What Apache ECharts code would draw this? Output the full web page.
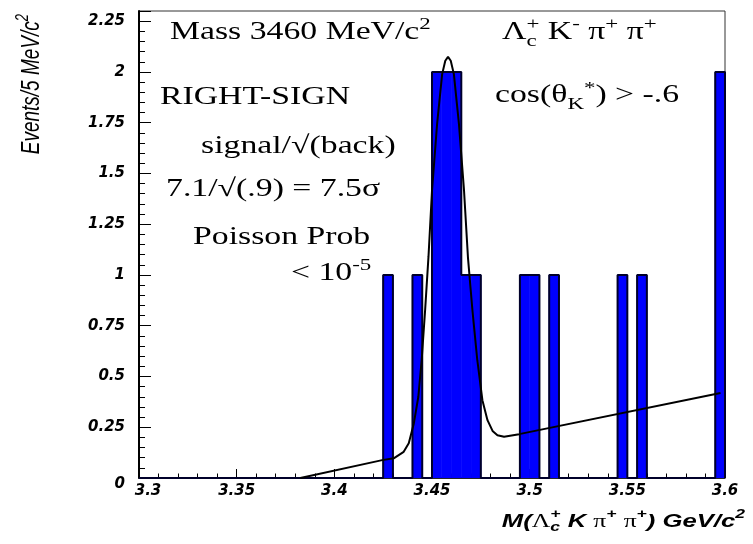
<!DOCTYPE html>
<html><head><meta charset="utf-8">
<script src="https://cdn.jsdelivr.net/npm/echarts@6/dist/echarts.min.js"></script>
<style>html,body{margin:0;padding:0;background:#fff}#c{width:753px;height:544px}</style>
</head><body><div id="c"></div>
<script>
// ---- data ----
const binLow   = [3.425, 3.440, 3.450, 3.455, 3.460, 3.465, 3.470, 3.495, 3.500, 3.510, 3.545, 3.555, 3.595];
const binCount = [1,     1,     2,     2,     2,     1,     1,     1,     1,     1,     1,     1,     2];
const binWidth = 0.005;
const massRange = [3.3, 3.6];
const yRange = [0, 2.3];
const xTickStep = 0.05;
const yTickStep = 0.25;
const yMinorStep = 0.05;
const fitMass  = [3.3826, 3.4245, 3.4304, 3.4355, 3.4381, 3.4407, 3.4430, 3.4447, 3.4465, 3.4482, 3.4500, 3.4526, 3.4552, 3.4568, 3.4582, 3.4596, 3.4612, 3.4638, 3.4664, 3.4684, 3.4707, 3.4732, 3.4758, 3.4784, 3.4810, 3.4835, 3.4869, 3.4946, 3.5977];
const fitValue = [0,      0.088,  0.097,  0.129,  0.171,  0.269,  0.40,   0.58,   0.83,   1.09,   1.415,  1.743,  1.989,  2.055,  2.074,  2.055,  1.989,  1.743,  1.415,  1.087,  0.826,  0.580,  0.383,  0.285,  0.232,  0.211,  0.203,  0.216,  0.419];

// ---- build tables ----
const nBins = Math.round((massRange[1] - massRange[0]) / binWidth);
const fullCounts = [];
for (let i = 0; i < nBins; i++) {
  const lo = +(massRange[0] + i * binWidth).toFixed(4);
  const k = binLow.findIndex(b => Math.abs(b - lo) < 1e-6);
  fullCounts.push([lo, k >= 0 ? binCount[k] : 0]);
}
const outline = fullCounts.slice();
outline.push([massRange[1], fullCounts[nBins - 1][1]]);
outline.push([massRange[1], 0]);
const barData = binLow.map((b, i) => [b, +(b + binWidth).toFixed(4), binCount[i]]);
const fitData = fitMass.map((m, i) => [m, fitValue[i]]);

// ---- text layout helper ----
const SERIF = 'Liberation Serif', SANS = 'Liberation Sans';
const mctx = document.createElement('canvas').getContext('2d');
function fstr(s) { return (s.st || 'normal') + ' ' + (s.w || 'normal') + ' ' + s.sz + 'px "' + s.f + '"'; }
function layout(x0, base, segs, def, sx) {
  const items = []; let x = x0; let stackW = null;
  segs.forEach(seg => {
    const s = Object.assign({}, def, seg);
    mctx.font = fstr(s);
    const w = mctx.measureText(s.t).width * sx;
    items.push({ type: 'text', x: x, y: base - (s.dy || 0) - 0.34 * s.sz, scaleX: sx,
      style: { text: s.t, font: fstr(s), fill: '#000', align: 'left', verticalAlign: 'middle' } });
    if (s.stack) { stackW = w; }
    else { x += (stackW !== null ? Math.max(stackW, w) : w); stackW = null; }
  });
  return { items, width: x - x0 };
}
const SX = 1.35;
const serifDef = { f: SERIF, sz: 25 };
const sup = { sz: 17, dy: 11 };
const sub = { sz: 17, dy: -6 };
const texts = [];
function add(x, base, segs, def, sx) { texts.push(...layout(x, base, segs, def || serifDef, sx || SX).items); }

add(170, 41, [{ t: 'Mass 3460 MeV/c' }, Object.assign({ t: '2' }, sup)]);
add(502, 41, [{ t: 'Λ' }, Object.assign({ t: '+', stack: true }, sup), Object.assign({ t: 'c' }, sub),
  { t: ' K' }, Object.assign({ t: '-' }, sup), { t: ' π' }, Object.assign({ t: '+' }, sup),
  { t: ' π' }, Object.assign({ t: '+' }, sup)]);
add(160, 106, [{ t: 'RIGHT-SIGN' }]);
add(495, 104, [{ t: 'cos(θ' }, Object.assign({ t: 'K' }, sub), { t: '*', sz: 17, dy: 10 }, { t: ') > -.6' }]);
add(201, 155, [{ t: 'signal/√(back)' }]);
add(166, 198, [{ t: '7.1/√(.9) = 7.5σ' }]);
add(193, 246, [{ t: 'Poisson Prob' }]);
add(291, 282, [{ t: '< 10' }, Object.assign({ t: '-5' }, sup)]);

// x-axis title (right aligned)
const titleDef = { f: SANS, sz: 19, w: 'bold', st: 'italic' };
const tsup = { sz: 13, dy: 9 }, tsub = { sz: 13, dy: -4 };
const xTitleSegs = [{ t: 'M(' }, { t: 'Λ', f: SERIF, w: 'normal', st: 'normal' },
  Object.assign({ t: '+', stack: true }, tsup), Object.assign({ t: 'c' }, tsub),
  { t: ' K ' }, { t: 'π', f: SERIF, w: 'normal', st: 'normal' }, Object.assign({ t: '+' }, tsup),
  { t: ' ' }, { t: 'π', f: SERIF, w: 'normal', st: 'normal' }, Object.assign({ t: '+' }, tsup),
  { t: ') GeV/c' }, Object.assign({ t: '2' }, tsup)];
const xw = layout(0, 0, xTitleSegs, titleDef, SX).width;
texts.push(...layout(745 - xw, 528, xTitleSegs, titleDef, SX).items);

// y-axis title (rotated)
const yTitleDef = { f: SANS, sz: 19, w: 'normal', st: 'italic' };
const yTitleSegs = [{ t: 'Events/5 MeV/c' }, Object.assign({ t: '2' }, tsup)];
const yl = layout(0, 0, yTitleSegs, yTitleDef, 1);
const yItems = layout(-yl.width, 0, yTitleSegs, yTitleDef, 1).items;
const yTitleGroup = { type: 'group', x: 41, y: 14, rotation: Math.PI / 2, scaleY: SX, children: yItems };

const labelFont = { color: '#000', fontFamily: 'DejaVu Sans', fontWeight: 'bold', fontStyle: 'italic', fontSize: 15 };
const isMajor = v => Math.abs(v / yTickStep - Math.round(v / yTickStep)) < 1e-6;
const fmt = v => String(+v.toFixed(2));

const chart = echarts.init(document.getElementById('c'), null, { renderer: 'canvas' });
chart.setOption({
  animation: false,
  backgroundColor: '#fff',
  grid: { left: 139, right: 28, top: 11, bottom: 66, show: true, borderColor: '#333', borderWidth: 1, backgroundColor: 'transparent' },
  xAxis: {
    type: 'value', min: massRange[0], max: massRange[1], interval: xTickStep,
    axisLine: { show: true, onZero: false, lineStyle: { color: '#000', width: 1.5 } },
    axisTick: { show: true, inside: true, length: 9, lineStyle: { color: '#000', width: 1 } },
    minorTick: { show: true, splitNumber: 5, length: 4.5, lineStyle: { color: '#000', width: 1 } },
    splitLine: { show: false },
    axisLabel: Object.assign({
      margin: 6,
      formatter: v => Math.abs(v - massRange[0]) < 1e-9 ? '{first|' + fmt(v) + '}' : fmt(v),
      rich: { first: Object.assign({ padding: [0, 0, 0, 18] }, labelFont) }
    }, labelFont)
  },
  yAxis: [{
    type: 'value', min: yRange[0], max: yRange[1], interval: yTickStep,
    axisLine: { show: true, onZero: false, lineStyle: { color: '#000', width: 2 } },
    axisTick: { show: true, inside: true, length: 12, lineStyle: { color: '#000', width: 1 } },
    splitLine: { show: false },
    axisLabel: Object.assign({
      margin: 14,
      formatter: v => !isMajor(v) ? '' : (Math.abs(v) < 1e-9 ? '{zero|0}' : fmt(v)),
      rich: { zero: Object.assign({ padding: [12, 0, 0, 0] }, labelFont) }
    }, labelFont)
  }, {
    type: 'value', min: yRange[0], max: yRange[1], interval: yMinorStep, position: 'left',
    axisLine: { show: false }, axisLabel: { show: false }, splitLine: { show: false },
    axisTick: { show: true, inside: true, length: 6, lineStyle: { color: '#000', width: 1 } }
  }],
  series: [
    {
      type: 'custom', clip: true, z: 2,
      data: barData,
      encode: { x: [0, 1], y: 2 },
      renderItem: (params, api) => {
        const p0 = api.coord([api.value(0), api.value(2)]);
        const p1 = api.coord([api.value(1), 0]);
        return { type: 'rect', shape: { x: p0[0], y: p0[1], width: p1[0] - p0[0], height: p1[1] - p0[1] },
          style: { fill: '#0000ff', stroke: '#0000ff', lineWidth: 0.6 } };
      }
    },
    {
      type: 'line', step: 'end', data: outline, showSymbol: false, symbol: 'none', z: 3,
      lineStyle: { color: '#00002a', width: 2 }, silent: true
    },
    {
      type: 'line', data: fitData, showSymbol: false, symbol: 'none', z: 4, smooth: false,
      lineStyle: { color: '#000', width: 2 }, silent: true
    }
  ],
  graphic: { elements: texts.concat([yTitleGroup]).map(e => Object.assign({ z: 100 }, e)) }
});
</script></body></html>
